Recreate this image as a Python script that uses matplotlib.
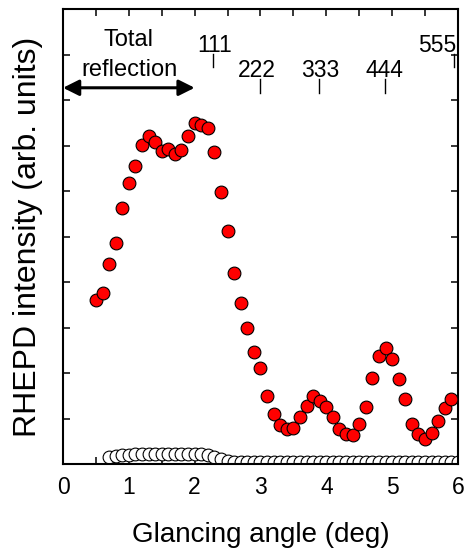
import matplotlib
matplotlib.use("Agg")
import matplotlib.pyplot as plt

plt.rcParams['font.family'] = ['Liberation Sans', 'DejaVu Sans']

# Red (filled) RHEPD intensity data
angle_red = [0.5, 0.6, 0.7, 0.8, 0.9, 1.0, 1.1, 1.2, 1.3, 1.4, 1.5, 1.6, 1.7, 1.8, 1.9,
             2.0, 2.1, 2.2, 2.3, 2.4, 2.5, 2.6, 2.7, 2.8, 2.9, 3.0, 3.1, 3.2, 3.3, 3.4,
             3.5, 3.6, 3.7, 3.8, 3.9, 4.0, 4.1, 4.2, 4.3, 4.4, 4.5, 4.6, 4.7, 4.8, 4.9,
             5.0, 5.1, 5.2, 5.3, 5.4, 5.5, 5.6, 5.7, 5.8, 5.9]
intensity_red = [3.62, 3.77, 4.41, 4.86, 5.63, 6.18, 6.56, 7.02, 7.22, 7.08, 6.89, 6.93, 6.82, 6.91, 7.22,
                 7.49, 7.46, 7.38, 6.87, 5.99, 5.13, 4.20, 3.55, 3.00, 2.46, 2.11, 1.51, 1.11, 0.86, 0.78,
                 0.80, 1.05, 1.28, 1.50, 1.39, 1.27, 1.05, 0.78, 0.68, 0.64, 0.89, 1.27, 1.89, 2.38, 2.55,
                 2.32, 1.87, 1.43, 0.88, 0.68, 0.56, 0.69, 0.95, 1.24, 1.44]

# Open circle data
angle_open = [0.7, 0.8, 0.9, 1.0, 1.1, 1.2, 1.3, 1.4, 1.5, 1.6, 1.7, 1.8, 1.9, 2.0, 2.1,
              2.2, 2.3, 2.4, 2.5, 2.6, 2.7, 2.8, 2.9, 3.0, 3.1, 3.2, 3.3, 3.4, 3.5, 3.6,
              3.7, 3.8, 3.9, 4.0, 4.1, 4.2, 4.3, 4.4, 4.5, 4.6, 4.7, 4.8, 4.9, 5.0, 5.1,
              5.2, 5.3, 5.4, 5.5, 5.6, 5.7, 5.8, 5.9, 6.0]
intensity_open = [0.17, 0.19, 0.20, 0.21, 0.22, 0.22, 0.22, 0.22, 0.22, 0.22, 0.22, 0.22, 0.22, 0.22, 0.22,
                  0.21, 0.17, 0.12, 0.08, 0.06, 0.05, 0.05, 0.05, 0.05, 0.05, 0.05, 0.05, 0.05, 0.05, 0.05,
                  0.05, 0.05, 0.05, 0.05, 0.05, 0.05, 0.05, 0.05, 0.05, 0.05, 0.05, 0.05, 0.05, 0.05, 0.05,
                  0.05, 0.05, 0.05, 0.05, 0.05, 0.05, 0.05, 0.05, 0.05]

# Bragg reflection markers
bragg_labels = ['111', '222', '333', '444', '555']
bragg_angles = [2.28, 3.0, 3.89, 4.89, 5.94]
bragg_label_x = [2.30, 2.95, 3.9, 4.88, 5.69]
bragg_row = [0, 1, 1, 1, 0]

fig = plt.figure(figsize=(4.66, 5.51), dpi=100)
ax = fig.add_axes([0.1352, 0.157, 0.8476, 0.8267])

ax.plot(angle_open, intensity_open, 'o', ms=9.2, mfc='white', mec='black', mew=0.8, zorder=2)
ax.plot(angle_red, intensity_red, 'o', ms=9.2, mfc='#ff0000', mec='black', mew=0.8, zorder=3)

ax.set_xlim(0, 6)
ax.set_ylim(0, 10)
ax.set_xticks([0, 1, 2, 3, 4, 5, 6])
ax.set_xticks([0.5, 1.5, 2.5, 3.5, 4.5, 5.5], minor=True)
ax.set_yticks(range(0, 11))
ax.set_yticklabels([])
ax.tick_params(which='both', direction='in', top=True, right=True, length=5, width=1.1,
               labelsize=16.5, pad=8)
for s in ax.spines.values():
    s.set_linewidth(1.5)

ax.set_xlabel('Glancing angle (deg)', fontsize=20)
ax.set_ylabel('RHEPD intensity (arb. units)', fontsize=23)
ax.xaxis.set_label_coords(0.5, -0.126)
ax.yaxis.set_label_coords(-0.05, 0.5)

# Total reflection arrow
ax.annotate('', xy=(0, 8.27), xytext=(2.0, 8.27),
            arrowprops=dict(arrowstyle='<|-|>', lw=2.2, mutation_scale=24, color='black',
                            shrinkA=0, shrinkB=0))
ax.text(1.0, 9.19, 'Total', ha='center', va='baseline', fontsize=17)
ax.text(1.01, 8.53, 'reflection', ha='center', va='baseline', fontsize=17)

for lab, xa, xl, row in zip(bragg_labels, bragg_angles, bragg_label_x, bragg_row):
    if row == 0:
        ax.plot([xa, xa], [8.73, 9.02], color='black', lw=1)
        ax.text(xl, 9.06, lab, ha='center', va='baseline', fontsize=16.5)
    else:
        ax.plot([xa, xa], [8.16, 8.47], color='black', lw=1)
        ax.text(xl, 8.51, lab, ha='center', va='baseline', fontsize=16.5)

fig.savefig('out.png', dpi=100)
